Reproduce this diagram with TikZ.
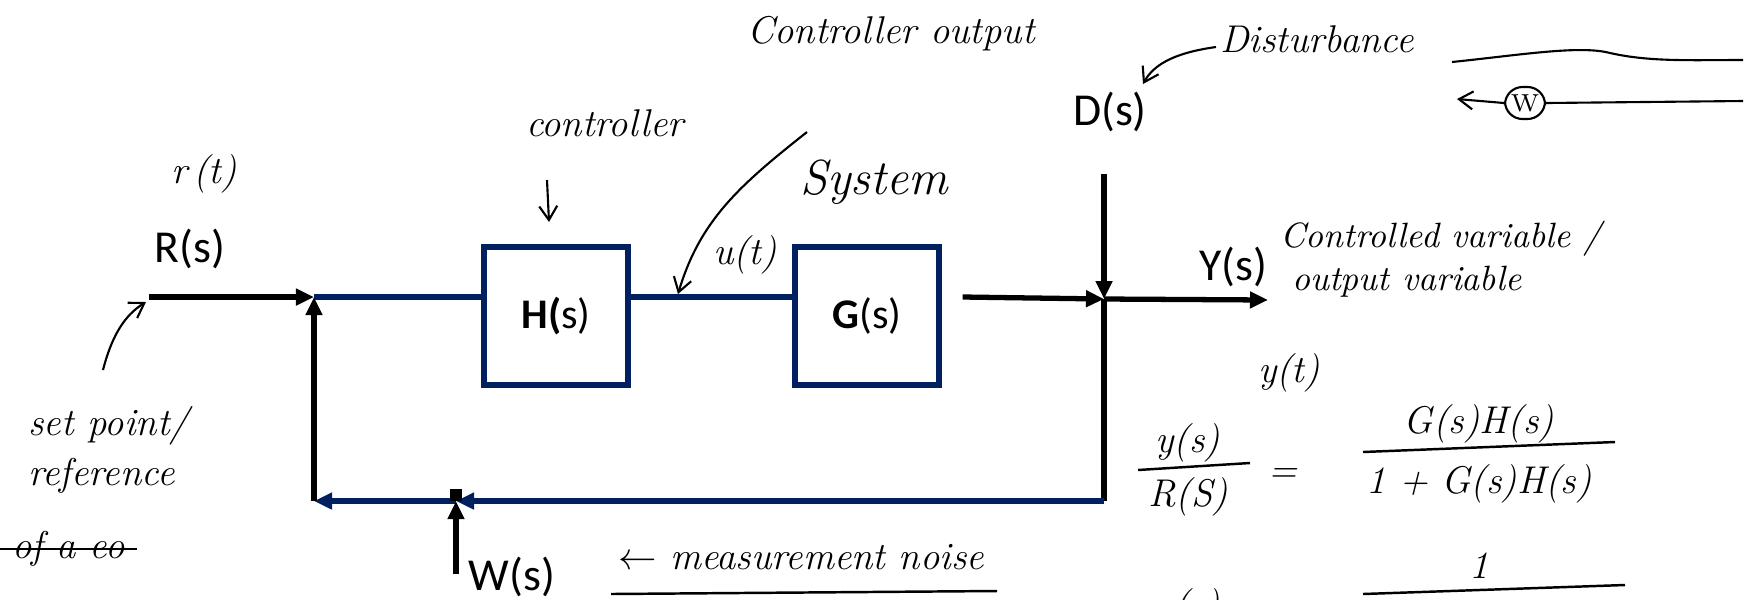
\documentclass[tikz,border=0pt]{standalone}
\usepackage{fontspec}
\newfontfamily\calib{Carlito}
\usetikzlibrary{positioning, arrows.meta}
\definecolor{navy}{HTML}{002060}
\tikzset{blk/.style={draw=navy, line width=1.7pt, minimum width=1.43cm, minimum height=1.38cm, font=\calib\fontsize{12}{14}\selectfont},
         sig/.style={line width=1.5pt, -{Triangle[length=1.8mm, width=1.6mm]}},
         fb/.style={draw=navy, line width=1.5pt, -{Triangle[length=1.8mm, width=1.6mm]}},
         lbl/.style={font=\calib\fontsize{13}{15}\selectfont},
         note/.style={font=\itshape\fontsize{11}{13}\selectfont},
         hand/.style={line width=0.6pt, -{Straight Barb[length=1.4mm, width=1.8mm]}},
        }

\begin{document}
\begin{tikzpicture}[x=0.01cm, y=-0.01cm]
        \useasboundingbox (0,0) rectangle (1757,599);
        % blocks and junctions
        \node[blk](H)at(556,316){\textbf{H(}s)};
        \node[blk](G)at(867,316){\textbf{G}(s)};
        \coordinate(in)at(149,297);
        \coordinate(sum)at(314,297);
        \coordinate(tp)at(1104,299);
        \coordinate(out)at(1268,300);
        \coordinate(dtop)at(1104,174);
        \coordinate(fbr)at(1104,501);
        \coordinate(fbl)at(314,501);
        \coordinate(wp)at(456,501);
        \coordinate(wbot)at(456,574);
        % forward path
        \draw[sig](in)--(sum);
        \draw[navy, line width=1.5pt](sum)--(sum-|H.west);
        \draw[navy, line width=1.5pt](H.east|-sum)--(G.west|-sum);
        \draw[sig]([xshift=6]G.east|-sum)--(tp);
        \draw[sig](dtop)--(tp);
        \draw[sig](tp)--(out);
        % feedback path
        \draw[line width=1.5pt](tp)--(fbr);
        \draw[fb](fbr)--(wp);
        \draw[fb](wp)--(fbl);
        \draw[sig](fbl)--(sum);
        \draw[sig](wbot)--(wp);
        \node[draw, line width=1.6pt, inner sep=0pt, minimum size=0.06cm](wsq)at(456,495){};
        % signal names
        \node[lbl](R)at(190,249){R(s)};
        \node[lbl](D)at(1110,112){D(s)};
        \node[lbl](Y)at(1233,267){Y(s)};
        \node[lbl](W)at(512,577){W(s)};
        % notes
        \node[note](rt)at(204,174){r\,(t)};
        \node[note](ctl)at(605,123){controller};
        \draw[hand](547,180)--(549,222);
        \node[note](cout)at(891,34){Controller output};
        \draw[hand](807,132)..controls(740,185)and(700,220)..(678,294);
        \node[note](ut)at(745,255){u(t)};
        \node[note, font=\itshape\fontsize{14}{16}\selectfont](sys)at(874,182){System};
        \node[note](dist)at(1317,39){Disturbance};
        \draw[hand](1216,47)..controls(1180,52)and(1155,62)..(1143,84);
        \node[note, anchor=west, font=\itshape\fontsize{10}{12}\selectfont](cv)at(1268,239){Controlled variable /};
        \node[note, anchor=west, font=\itshape\fontsize{10}{12}\selectfont](ov)at(1280,282){output variable};
        \node[note](yt)at(1289,373){y(t)};
        \node[note, anchor=west](sp)at(16,426){set point/};
        \node[note, anchor=west](ref)at(16,476){reference};
        \draw[hand](103,370)..controls(112,335)and(125,315)..(146,302);
        \node[note, anchor=west](ofa)at(0,549){of a eo};
        \draw[line width=0.8pt](ofa.west)--(ofa.east);
        \node[note](wn)at(801,557){$\leftarrow$ measurement noise};
        \draw[line width=0.7pt](611,594)--(997,591);
        % transfer function
        \node[note](yn)at(1188,443){y(s)};
        \node[note](rd)at(1188,497){R(S)};
        \draw[line width=0.7pt](1138,470)--(1250,463);
        \node[note](eq)at(1283,476){=};
        \node[note](gh)at(1479,424){G(s)H(s)};
        \node[note](den)at(1479,484){1 + G(s)H(s)};
        \draw[line width=0.7pt](1363,452)--(1615,442);
        \node[note](one)at(1479,566){1};
        \draw[line width=0.7pt](1363,594)--(1625,585);
        \node[note](ybot)at(1188,608){y(s)};
        % sketch, top right
        \draw[line width=0.6pt](1452,62)..controls(1520,55)and(1580,45)..(1610,53)..controls(1650,62)and(1690,60)..(1743,60);
        \node[draw, line width=0.6pt, rounded corners=5pt, minimum width=0.4cm, minimum height=0.32cm, inner sep=1pt, font=\fontsize{7}{8}\selectfont](wc)at(1525,103){W};
        \draw[hand](wc.west)--(1457,99);
        \draw[line width=0.6pt](wc.east)--(1743,101);
    \end{tikzpicture}
\end{document}
